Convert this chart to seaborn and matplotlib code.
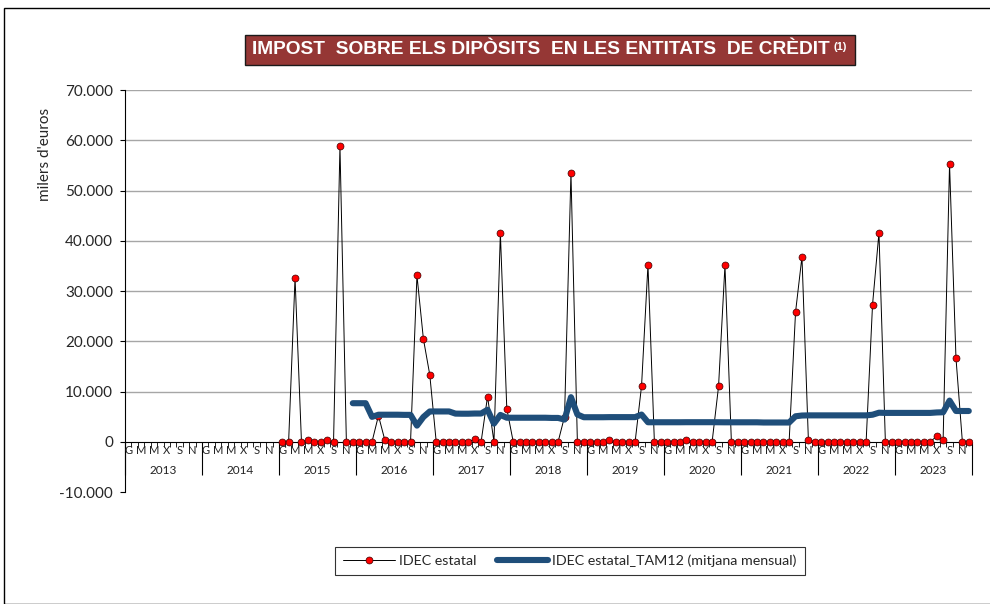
import numpy as np
import pandas as pd
import matplotlib
matplotlib.use('Agg')
import matplotlib.pyplot as plt
import seaborn as sns
from matplotlib.ticker import FixedLocator, FuncFormatter
from matplotlib.patches import Rectangle
from matplotlib.lines import Line2D
from matplotlib.text import Annotation

# Data (milers d'euros), monthly from January 2013
years = [2013, 2014, 2015, 2016, 2017, 2018, 2019, 2020, 2021, 2022, 2023]
month_letters = ['G', '', 'M', '', 'M', '', 'X', '', 'S', '', 'N', '']

idec_2015 = [0, 0, 32600, 0, 300, 0, 0, 300, 0, 58800, 0, 0]
idec_2016 = [0, 0, 0, 5200, 300, 0, 0, 0, 0, 33100, 20500, 13300]
idec_2017 = [0, 0, 0, 0, 0, 0, 500, 0, 9000, 0, 41500, 6600]
idec_2018 = [0, 0, 0, 0, 0, 0, 0, 0, 5000, 53500, 0, 0]
idec_2019 = [0, 0, 0, 300, 0, 0, 0, 0, 11100, 35200, 0, 0]
idec_2020 = [0, 0, 0, 400, 0, 0, 0, 0, 11000, 35100, 0, 0]
idec_2021 = [0, 0, 0, 0, 0, 0, 0, 0, 25800, 36800, 400, 0]
idec_2022 = [0, 0, 0, 0, 0, 0, 0, 0, 27300, 41600, 0, 0]
idec_2023 = [0, 0, 0, 0, 0, 0, 1100, 400, 55200, 16700, 0, 0]

tam12_2015 = [7670]  # only December
tam12_2016 = [7670, 7670, 4950, 5380, 5380, 5380, 5380, 5350, 5350, 3210, 4920, 6030]
tam12_2017 = [6030, 6030, 6030, 5600, 5580, 5580, 5620, 5620, 6370, 3610, 5340, 4780]
tam12_2018 = [4780, 4780, 4780, 4780, 4780, 4780, 4740, 4740, 4410, 8870, 5430, 4880]
tam12_2019 = [4880, 4880, 4880, 4900, 4900, 4900, 4900, 4900, 5410, 3880, 3880, 3880]
tam12_2020 = [3880, 3880, 3880, 3890, 3890, 3890, 3890, 3890, 3880, 3870, 3870, 3870]
tam12_2021 = [3870, 3870, 3870, 3830, 3830, 3830, 3830, 3830, 5070, 5220, 5250, 5250]
tam12_2022 = [5250, 5250, 5250, 5250, 5250, 5250, 5250, 5250, 5380, 5780, 5740, 5740]
tam12_2023 = [5740, 5740, 5740, 5740, 5740, 5740, 5830, 5870, 8190, 6120, 6120, 6120]

y_ticks = [-10000, 0, 10000, 20000, 30000, 40000, 50000, 60000, 70000]

idec = ([np.nan] * 24 + idec_2015 + idec_2016 + idec_2017 + idec_2018 + idec_2019
        + idec_2020 + idec_2021 + idec_2022 + idec_2023)
tam12 = ([np.nan] * 35 + tam12_2015 + tam12_2016 + tam12_2017 + tam12_2018 + tam12_2019
         + tam12_2020 + tam12_2021 + tam12_2022 + tam12_2023)
n_months = len(years) * 12
df = pd.DataFrame({'pos': np.arange(n_months), 'idec': idec, 'tam12': tam12})

sns.set_style('white')
plt.rcParams['font.family'] = ['Lato', 'DejaVu Sans']

fig = plt.figure(figsize=(9.9, 6.04), dpi=100)
ax = fig.add_axes([125 / 990, 1 - 492 / 604, 847 / 990, 402 / 604])

red_color = '#ff0000'
blue_color = '#1f4e7a'

# horizontal gridlines (not on the -10.000 line)
for yv in y_ticks:
    if yv > 0:
        ax.axhline(yv, color='#a6a6a6', lw=1.0, zorder=0)

sns.lineplot(data=df, x='pos', y='idec', ax=ax, estimator=None, errorbar=None,
             color='black', lw=0.7, marker='o', markersize=5,
             markerfacecolor=red_color, markeredgecolor='#3a0000',
             markeredgewidth=0.5, zorder=3, legend=False)
sns.lineplot(data=df, x='pos', y='tam12', ax=ax, estimator=None, errorbar=None,
             color=blue_color, lw=4.4, solid_capstyle='round',
             solid_joinstyle='round', zorder=4, legend=False)

ax.set_xlim(-0.5, n_months - 0.5)
ax.set_ylim(-10000, 70000)
ax.set_xlabel('')
ax.set_ylabel("milers d'euros", fontsize=11)
ax.yaxis.set_label_coords(-0.086, 0.84)

ax.yaxis.set_major_locator(FixedLocator(y_ticks))
ax.yaxis.set_major_formatter(FuncFormatter(lambda v, p: f'{int(v):,}'.replace(',', '.')))
ax.tick_params(axis='y', direction='out', length=3.6, width=0.8, color='black',
               labelsize=11, pad=5, left=True)

for side in ['top', 'right']:
    ax.spines[side].set_visible(False)
ax.spines['left'].set_color('black')
ax.spines['left'].set_linewidth(0.8)
ax.spines['bottom'].set_position(('data', 0))
ax.spines['bottom'].set_color('black')
ax.spines['bottom'].set_linewidth(0.8)

year_edges = [-0.5 + 12 * k for k in range(len(years) + 1)]
month_edges = [-0.5 + m for m in range(n_months + 1)]
ax.xaxis.set_major_locator(FixedLocator(year_edges))
ax.xaxis.set_minor_locator(FixedLocator(month_edges))
ax.tick_params(axis='x', which='major', direction='out', length=24, width=0.8,
               color='black', labelbottom=False, bottom=True)
ax.tick_params(axis='x', which='minor', direction='out', length=3.6, width=0.6,
               color='black', bottom=True)

trans = ax.get_xaxis_transform()
for k, yr in enumerate(years):
    for m, letter in enumerate(month_letters):
        if letter:
            ax.text(12 * k + m, 0.104, letter, transform=trans, ha='center',
                    va='center', fontsize=8, color='#222222')
    ax.text(12 * k + 5.5, 0.054, str(yr), transform=trans, ha='center',
            va='center', fontsize=8.5, color='#222222')

# title box
fig.patches.append(Rectangle((245 / 990, 1 - 65 / 604), 610 / 990, 30 / 604,
                             transform=fig.transFigure, facecolor='#953735',
                             edgecolor='#1a1a1a', lw=1.0, zorder=5))
title = fig.text(252 / 990, 1 - 50 / 604,
                 'IMPOST  SOBRE ELS DIPÒSITS  EN LES ENTITATS  DE CRÈDIT',
                 ha='left', va='center', color='white', fontsize=13.8,
                 fontweight='bold', family='Liberation Sans', zorder=6)
sup = Annotation('(1)', xy=(1, 1), xycoords=title, xytext=(3, 0),
                 textcoords='offset points', ha='left', va='top', color='white',
                 fontsize=8, fontweight='bold', family='Liberation Sans',
                 annotation_clip=False, zorder=7)
fig.add_artist(sup)

# legend
handles = [
    Line2D([], [], color='black', lw=0.7, marker='o', markersize=5,
           markerfacecolor=red_color, markeredgecolor='#3a0000', markeredgewidth=0.5),
    Line2D([], [], color=blue_color, lw=4.4, solid_capstyle='round'),
]
leg = fig.legend(handles, ['IDEC estatal', 'IDEC estatal_TAM12 (mitjana mensual)'],
                 loc='center', bbox_to_anchor=(570 / 990, 1 - 561 / 604), ncol=2,
                 fontsize=10.3, frameon=True, fancybox=False, edgecolor='black',
                 handlelength=3.6, columnspacing=1.4, handletextpad=0.3,
                 borderpad=0.55)
leg.get_frame().set_linewidth(0.8)

# outer chart border
fig.patches.append(Rectangle((4 / 990, 0), 1.0, 1 - 8 / 604, transform=fig.transFigure,
                             fill=False, edgecolor='black', lw=1.0))

fig.savefig('out.png', dpi=100)
